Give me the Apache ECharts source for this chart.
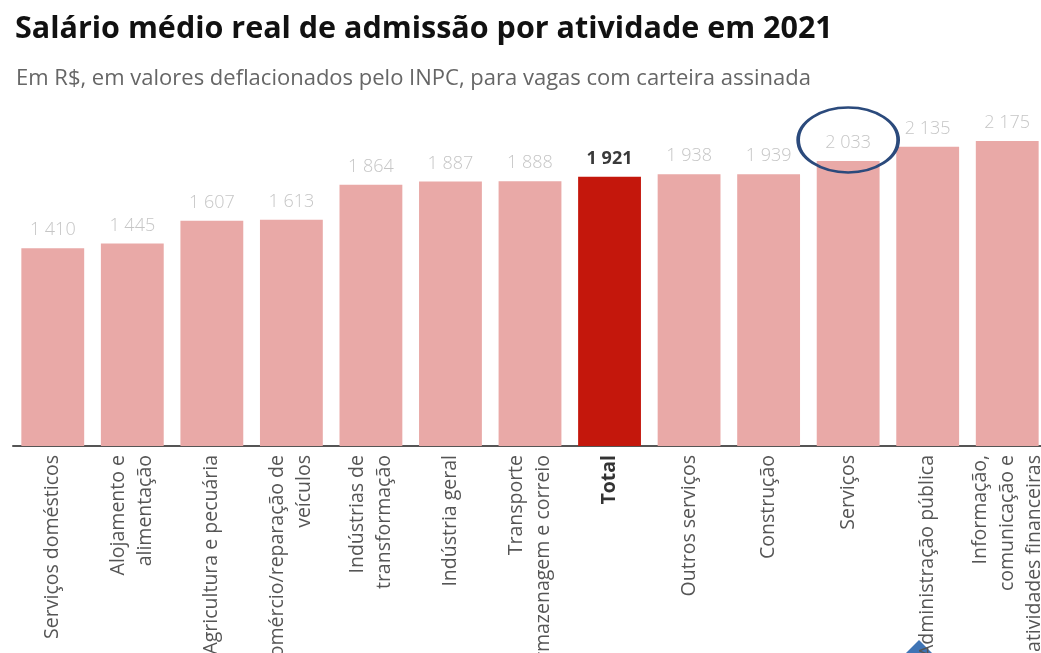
<!DOCTYPE html>
<html>
<head>
<meta charset="utf-8">
<script src="https://cdn.jsdelivr.net/npm/echarts@6/dist/echarts.min.js"></script>
<style>
html,body{margin:0;padding:0;background:#fff;}
#chart{width:1041px;height:653px;}
</style>
</head>
<body>
<div id="chart"></div>
<script>
const categories = [
  "Serviços domésticos",
  "Alojamento e\nalimentação",
  "Agricultura e pecuária",
  "Comércio/reparação de\nveículos",
  "Indústrias de\ntransformação",
  "Indústria geral",
  "Transporte\narmazenagem e correio",
  "Total",
  "Outros serviços",
  "Construção",
  "Serviços",
  "Administração pública",
  "Informação,\ncomunicação e\natividades financeiras"
];
const salaries = [1410, 1445, 1607, 1613, 1864, 1887, 1888, 1921, 1938, 1939, 2033, 2135, 2175];
const highlightCategory = "Total";
const circledCategory = "Serviços";

const fmt = v => String(v).replace(/\B(?=(\d{3})+(?!\d))/g, ' ');

const chart = echarts.init(document.getElementById('chart'));
const data = salaries.map((v, i) => {
  const isTotal = categories[i] === highlightCategory;
  return {
    value: v,
    itemStyle: { color: isTotal ? '#C4170C' : '#E9A9A7' },
    label: isTotal ? { color: '#3a3a3a', fontWeight: 'bold' } : {}
  };
});
const ci = categories.indexOf(circledCategory);

chart.setOption({
  animation: false,
  title: [{
    text: 'Salário médio real de admissão por atividade em 2021',
    left: 10, top: 9,
    textStyle: { fontFamily: 'Open Sans', fontWeight: 'bold', fontSize: 30.5, color: '#111' }
  }, {
    text: 'Em R$, em valores deflacionados pelo INPC, para vagas com carteira assinada',
    left: 11, top: 63,
    textStyle: { fontFamily: 'Open Sans', fontWeight: 'normal', fontSize: 22, color: '#666' }
  }],
  grid: { left: 13, width: 1034, top: 95.5, bottom: 207, containLabel: false, outerBoundsMode: 'none' },
  xAxis: {
    type: 'category',
    data: categories,
    axisLine: { lineStyle: { color: '#555', width: 2 } },
    axisTick: { show: false },
    axisLabel: {
      rotate: 90, interval: 0, margin: 9,
      fontFamily: 'Open Sans', fontSize: 19.5, color: '#555', lineHeight: 27,
      formatter: v => v === highlightCategory ? '{b|' + v + '}' : v,
      rich: { b: { fontWeight: 'bold', fontFamily: 'Open Sans', fontSize: 19.5, color: '#333' } }
    }
  },
  yAxis: { type: 'value', min: 0, max: 2500, show: false, splitLine: { show: false } },
  series: [{
    type: 'bar',
    data: data,
    barCategoryGap: '21%',
    label: {
      show: true, position: 'top', distance: 9,
      fontFamily: 'Open Sans', fontWeight: 300, fontSize: 18, color: '#c6c6c6',
      formatter: p => fmt(p.value)
    },
    markPoint: {
      silent: true,
      symbol: 'circle',
      symbolSize: [100, 65],
      symbolOffset: [0, -21],
      label: { show: false },
      itemStyle: { color: 'rgba(0,0,0,0)', borderColor: '#2B4A7C', borderWidth: 3 },
      data: [{ coord: [ci, salaries[ci]] }]
    }
  }],
  graphic: [{
    type: 'polygon',
    shape: { points: [[919, 640], [944, 665], [919, 690], [894, 665]] },
    style: { fill: '#3F74B5' }
  }]
});
</script>
</body>
</html>
